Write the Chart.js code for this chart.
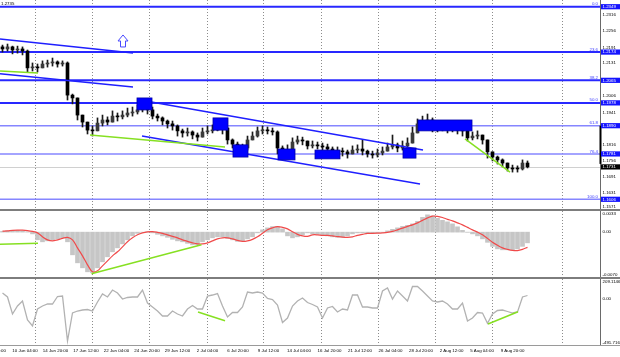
<!DOCTYPE html>
<html><head><meta charset="utf-8">
<script src="https://cdn.jsdelivr.net/npm/chart.js@4.4.1/dist/chart.umd.min.js"></script>
<style>
html,body{margin:0;padding:0;background:#fff;overflow:hidden}
#wrap{position:relative;width:620px;height:357px;background:#fff}
canvas{position:absolute;left:0}
.sep{position:absolute;left:0;width:620px;height:2px;background:#7d7d7d}
</style></head><body>
<div id="wrap">
<canvas id="c1" width="620" height="209" style="top:0"></canvas>
<div class="sep" style="top:209px"></div>
<canvas id="c2" width="620" height="66" style="top:211px"></canvas>
<div class="sep" style="top:277px"></div>
<canvas id="c3" width="620" height="78" style="top:279px"></canvas>
</div>
<script>
// ---------- DATA (H4 candles) ----------
const opens = [1.2194,1.2186,1.2194,1.2182,1.2186,1.2178,1.2113,1.2116,1.2113,1.2128,
 1.2132,1.2136,1.2128,1.2132,1.2008,1.1997,1.1931,1.1904,1.1873,1.1870,
 1.1900,1.1912,1.1904,1.1927,1.1924,1.1931,1.1939,1.1943,1.1951,1.1962,
 1.1951,1.1927,1.1920,1.1908,1.1897,1.1889,1.1870,1.1862,1.1866,1.1854,
 1.1846,1.1866,1.1870,1.1873,1.1885,1.1881,1.1835,1.1819,1.1808,1.1804,
 1.1835,1.1850,1.1870,1.1873,1.1870,1.1866,1.1804,1.1789,1.1796,1.1827,
 1.1835,1.1831,1.1812,1.1816,1.1812,1.1808,1.1800,1.1789,1.1792,1.1789,
 1.1781,1.1796,1.1800,1.1792,1.1781,1.1777,1.1785,1.1792,1.1808,1.1816,
 1.1804,1.1812,1.1823,1.1862,1.1897,1.1908,1.1912,1.1885,1.1881,1.1885,
 1.1877,1.1881,1.1873,1.1870,1.1843,1.1850,1.1854,1.1835,1.1789,1.1769,
 1.1758,1.1746,1.1727,1.1723,1.1723,1.1746];
const highs = [1.2201,1.2205,1.2197,1.2197,1.2194,1.2182,1.2132,1.2128,1.2140,1.2143,
 1.2151,1.2140,1.2140,1.2136,1.2012,1.1997,1.1931,1.1904,1.1889,1.1920,
 1.1931,1.1924,1.1947,1.1939,1.1947,1.1958,1.1962,1.1970,1.1985,1.1978,
 1.1962,1.1935,1.1924,1.1912,1.1908,1.1893,1.1877,1.1881,1.1870,1.1862,
 1.1881,1.1889,1.1893,1.1908,1.1900,1.1881,1.1839,1.1827,1.1819,1.1850,
 1.1866,1.1885,1.1889,1.1885,1.1881,1.1870,1.1812,1.1816,1.1843,1.1850,
 1.1846,1.1831,1.1831,1.1827,1.1823,1.1819,1.1808,1.1808,1.1804,1.1796,
 1.1812,1.1816,1.1835,1.1796,1.1792,1.1800,1.1808,1.1823,1.1854,1.1823,
 1.1831,1.1843,1.1885,1.1916,1.1927,1.1935,1.1920,1.1897,1.1900,1.1893,
 1.1897,1.1889,1.1885,1.1873,1.1866,1.1870,1.1854,1.1835,1.1789,1.1773,
 1.1762,1.1746,1.1738,1.1735,1.1758,1.1754];
const lows = [1.2174,1.2178,1.2167,1.2170,1.2163,1.2097,1.2101,1.2097,1.2113,1.2116,
 1.2120,1.2116,1.2120,1.1989,1.1974,1.1912,1.1885,1.1858,1.1850,1.1870,
 1.1889,1.1893,1.1904,1.1908,1.1916,1.1924,1.1927,1.1935,1.1943,1.1935,
 1.1916,1.1908,1.1893,1.1881,1.1873,1.1850,1.1846,1.1850,1.1839,1.1831,
 1.1846,1.1858,1.1862,1.1870,1.1858,1.1819,1.1804,1.1792,1.1785,1.1796,
 1.1835,1.1846,1.1858,1.1858,1.1854,1.1781,1.1773,1.1777,1.1792,1.1819,
 1.1816,1.1800,1.1804,1.1800,1.1796,1.1789,1.1777,1.1777,1.1773,1.1765,
 1.1781,1.1785,1.1777,1.1769,1.1765,1.1769,1.1777,1.1792,1.1800,1.1789,
 1.1796,1.1792,1.1823,1.1862,1.1893,1.1897,1.1866,1.1866,1.1870,1.1862,
 1.1866,1.1858,1.1850,1.1831,1.1835,1.1839,1.1819,1.1765,1.1754,1.1742,
 1.1731,1.1715,1.1711,1.1711,1.1719,1.1727];
const closes = [1.2186,1.2194,1.2182,1.2186,1.2178,1.2113,1.2116,1.2113,1.2128,1.2132,
 1.2136,1.2128,1.2132,1.2008,1.1997,1.1931,1.1904,1.1873,1.1870,1.1900,
 1.1912,1.1904,1.1927,1.1924,1.1931,1.1939,1.1943,1.1951,1.1962,1.1951,
 1.1927,1.1920,1.1908,1.1897,1.1889,1.1870,1.1862,1.1866,1.1854,1.1846,
 1.1866,1.1870,1.1873,1.1885,1.1881,1.1835,1.1819,1.1808,1.1804,1.1835,
 1.1850,1.1870,1.1873,1.1870,1.1866,1.1804,1.1789,1.1796,1.1827,1.1835,
 1.1831,1.1812,1.1816,1.1812,1.1808,1.1800,1.1789,1.1792,1.1789,1.1781,
 1.1796,1.1800,1.1792,1.1781,1.1777,1.1785,1.1792,1.1808,1.1816,1.1804,
 1.1812,1.1823,1.1862,1.1897,1.1908,1.1912,1.1885,1.1881,1.1885,1.1877,
 1.1881,1.1873,1.1870,1.1843,1.1850,1.1854,1.1835,1.1789,1.1769,1.1758,
 1.1746,1.1727,1.1723,1.1723,1.1746,1.1731];

const macdMain = [0.00012,0.00020,0.00028,0.00028,0.00020,0.00005,-0.00027,-0.00120,-0.00151,-0.00136,
 -0.00120,-0.00105,-0.00089,-0.00151,-0.00354,-0.00479,-0.00557,-0.00619,-0.00635,-0.00557,
 -0.00463,-0.00385,-0.00307,-0.00245,-0.00183,-0.00120,-0.00058,-0.00019,-0.00003,0.00005,
 -0.00011,-0.00034,-0.00058,-0.00081,-0.00112,-0.00136,-0.00151,-0.00175,-0.00198,-0.00198,
 -0.00151,-0.00120,-0.00089,-0.00073,-0.00073,-0.00097,-0.00120,-0.00144,-0.00136,-0.00105,
 -0.00073,-0.00011,0.00036,0.00067,0.00087,0.00087,0.00051,-0.00058,-0.00089,-0.00073,
 -0.00042,-0.00011,-0.00027,-0.00034,-0.00042,-0.00058,-0.00073,-0.00081,-0.00081,-0.00058,
 -0.00027,-0.00011,-0.00011,-0.00011,-0.00011,-0.00011,-0.00003,0.00020,0.00044,0.00067,
 0.00090,0.00106,0.00129,0.00168,0.00231,0.00270,0.00254,0.00215,0.00184,0.00161,
 0.00129,0.00083,0.00028,-0.00003,-0.00027,-0.00058,-0.00105,-0.00159,-0.00222,-0.00261,
 -0.00276,-0.00276,-0.00276,-0.00261,-0.00222,-0.00167];
const macdSignal = [0.00016,0.00020,0.00028,0.00031,0.00031,0.00025,0.00012,-0.00011,-0.00073,-0.00120,
 -0.00136,-0.00120,-0.00097,-0.00081,-0.00120,-0.00245,-0.00370,-0.00510,-0.00619,-0.00604,
 -0.00526,-0.00448,-0.00370,-0.00307,-0.00229,-0.00151,-0.00089,-0.00042,-0.00011,0.00005,
 0.00008,-0.00003,-0.00019,-0.00042,-0.00066,-0.00089,-0.00120,-0.00144,-0.00167,-0.00183,
 -0.00183,-0.00167,-0.00136,-0.00105,-0.00089,-0.00089,-0.00105,-0.00128,-0.00144,-0.00136,
 -0.00112,-0.00073,-0.00019,0.00036,0.00067,0.00087,0.00075,0.00051,0.00005,-0.00034,
 -0.00058,-0.00066,-0.00042,-0.00042,-0.00050,-0.00050,-0.00058,-0.00069,-0.00078,-0.00081,
 -0.00073,-0.00050,-0.00034,-0.00019,-0.00019,-0.00016,-0.00011,-0.00003,0.00012,0.00036,
 0.00062,0.00090,0.00114,0.00145,0.00184,0.00223,0.00251,0.00246,0.00228,0.00200,
 0.00176,0.00145,0.00114,0.00075,0.00036,0.00000,-0.00042,-0.00097,-0.00159,-0.00206,
 -0.00245,-0.00268,-0.00284,-0.00287,-0.00268,-0.00237];
const cciValues = [60.4,18.0,-162.6,-77.6,-24.5,-226.3,-290.0,-109.5,-77.6,-56.4,
 -56.4,23.3,28.6,-449.3,-151.9,-130.7,-120.1,-114.8,-130.7,-35.1,
 49.8,18.0,92.3,60.4,-3.3,12.7,18.0,18.0,92.3,-45.7,
 -88.2,-130.7,-183.8,-183.8,-130.7,-162.6,-183.8,-109.5,-72.3,-109.5,
 -109.5,28.6,39.2,55.1,-77.6,-194.4,-146.6,-146.6,-88.2,71.1,
 60.4,71.1,60.4,2.0,-8.6,-67.0,-252.8,-205.0,-77.6,-24.5,
 7.4,-40.4,-61.7,-88.2,-205.0,-98.8,-82.9,-141.3,-109.5,-120.1,
 39.2,39.2,-88.2,-88.2,-98.8,-98.8,81.7,113.5,-3.3,81.7,
 28.6,-24.5,129.5,129.5,81.7,28.6,-24.5,-35.1,-24.5,-56.4,
 -109.5,-109.5,-45.7,-236.9,-205.0,-146.6,-151.9,-261.3,-162.6,-125.4,
 -120.1,-136.0,-151.9,-141.3,18.0,33.9];

// Fibonacci levels and price-scale ticks
const fibLevels = [1.2349, 1.2174, 1.2065, 1.1978, 1.1890, 1.1781, 1.1606];
const fibNames  = ['0.0', '23.6', '38.2', '50.0', '61.8', '76.4', '100.0'];
const priceTicks = [1.2316, 1.2256, 1.2191, 1.2131, 1.2006, 1.1941, 1.1816, 1.1756, 1.1691, 1.1631, 1.1571];
const macdTicks = [0.0033, 0.00, -0.0070];
const macdTickLabels = ['0.0033', '0.00', '-0.0070'];
const cciTicks = [209.1146, 0, -491.7166];
const cciTickLabels = ['209.1146', '0.00', '-491.7166'];

// time axis (positions are bar indices)
const timeLabels = ['7 Jun 12:00','10 Jun 04:00','14 Jun 20:00','17 Jun 12:00','22 Jun 04:00','24 Jun 20:00',
 '29 Jun 12:00','2 Jul 04:00','6 Jul 20:00','9 Jul 12:00','14 Jul 04:00','16 Jul 20:00','21 Jul 12:00',
 '26 Jul 04:00','28 Jul 20:00','2 Aug 12:00','5 Aug 04:00','9 Aug 20:00'];
const timeLabelPos = [-1.6,4.5,10.6,16.7,22.8,28.9,35.0,41.0,47.1,53.2,59.3,65.4,71.5,77.6,83.7,89.8,95.9,102.0];
const gridPos = [6.5, 17.9, 29.3, 40.9, 52.1, 63.7, 75.1, 86.5, 97.9, 111.9];

// drawn analysis objects, in (bar index, value) coordinates
const channelLines = [[-0.5,1.2224,26.1,1.2170],[-0.5,1.2090,26.1,1.2039],[27.5,1.1989,84.1,1.1796],[27.9,1.1850,83.5,1.1665]];
const greenLines = [[-0.5,1.2101,7.1,1.2093],[17.5,1.1854,44.5,1.1808],[92.5,1.1839,101.5,1.1711]];
const zoneBoxes = [[26.9,29.9,1.1997,1.1951],[42.1,45.1,1.1920,1.1873],[46.1,49.1,1.1816,1.1769],
 [55.1,58.5,1.1800,1.1758],[62.5,67.5,1.1796,1.1762],[80.1,82.7,1.1804,1.1765],[83.1,93.9,1.1912,1.1870]];
const arrowAt = [24.1, 1.2240];
const macdGreen = [[-0.5,-0.00187,7.1,-0.00172],[17.8,-0.00650,39.8,-0.00198]];
const cciGreen = [[39.1,-141.3,44.5,-233.7],[97.1,-268.7,103.1,-138.1]];

// ---------- helpers ----------
const FONT = '4.4px "Liberation Sans", Arial, sans-serif';
function seg(ctx,x1,y1,x2,y2){ctx.beginPath();ctx.moveTo(x1,y1);ctx.lineTo(x2,y2);ctx.stroke();}
function txt(ctx,s,x,y,color,align){ctx.font=FONT;ctx.fillStyle=color;ctx.textAlign=align||'left';ctx.textBaseline='middle';ctx.fillText(s,x,y);}
function vGrid(chart){
  const {ctx,chartArea:a,scales:{x}}=chart; ctx.save();
  ctx.strokeStyle='#8c8c8c'; ctx.lineWidth=1; ctx.setLineDash([1,2]);
  gridPos.forEach(g=>{const px=Math.round(x.getPixelForValue(g))+0.5; seg(ctx,px,a.top,px,a.bottom);});
  ctx.restore();
}
function axisLine(chart){
  const {ctx,chartArea:a}=chart; ctx.save(); ctx.strokeStyle='#6a6a6a'; ctx.lineWidth=1;
  seg(ctx,a.right+0.5,a.top,a.right+0.5,a.bottom); ctx.restore();
}
function dataSegs(chart,list,color,w){
  const {ctx,chartArea:a,scales:{x,y}}=chart; ctx.save();
  ctx.beginPath(); ctx.rect(a.left,a.top,a.right-a.left,a.bottom-a.top); ctx.clip();
  ctx.strokeStyle=color; ctx.lineWidth=w;
  list.forEach(l=>seg(ctx,x.getPixelForValue(l[0]),y.getPixelForValue(l[1]),x.getPixelForValue(l[2]),y.getPixelForValue(l[3])));
  ctx.restore();
}
function sideTicks(chart,vals,labels){
  const {ctx,chartArea:a,scales:{y}}=chart; ctx.save();
  vals.forEach((v,k)=>{let py=y.getPixelForValue(v); py=Math.min(Math.max(py,a.top+3),a.bottom-2.5); txt(ctx,labels[k],a.right+2.5,py,'#000');});
  ctx.restore();
}
const xScale = {type:'linear',min:-0.5,max:119.5,display:false,offset:false};
const baseOpts = {responsive:false,animation:false,events:[],devicePixelRatio:1,
  plugins:{legend:{display:false},tooltip:{enabled:false}}};

// ---------- main price pane ----------
const mainDeco = {
  id:'mainDeco',
  beforeDatasetsDraw(chart){
    const {ctx,chartArea:a,scales:{y}}=chart;
    vGrid(chart);
    ctx.save();
    const by=Math.round(y.getPixelForValue(closes[closes.length-1]))+0.5;
    ctx.strokeStyle='#d0d0d0'; ctx.lineWidth=1; seg(ctx,a.left,by,a.right,by);
    fibLevels.forEach((lv,k)=>{
      const py=y.getPixelForValue(lv);
      ctx.strokeStyle=k<4?'#2828ff':'#8686ff'; ctx.lineWidth=k<4?2:1.5;
      seg(ctx,a.left,py,a.right,py);
    });
    ctx.restore();
  },
  afterDatasetsDraw(chart){
    const {ctx,chartArea:a,scales:{x,y}}=chart;
    dataSegs(chart,channelLines,'#1f1fff',1.5);
    dataSegs(chart,greenLines,'#86e022',1.5);
    ctx.save();
    zoneBoxes.forEach(b=>{
      const x1=x.getPixelForValue(b[0]),x2=x.getPixelForValue(b[1]),y1=y.getPixelForValue(b[2]),y2=y.getPixelForValue(b[3]);
      ctx.fillStyle='#0000ff'; ctx.fillRect(x1,y1,x2-x1,y2-y1);
      ctx.strokeStyle='#0000a8'; ctx.lineWidth=0.8; ctx.strokeRect(x1,y1,x2-x1,y2-y1);
    });
    const ax=x.getPixelForValue(arrowAt[0]), ay=y.getPixelForValue(arrowAt[1]);
    ctx.strokeStyle='#4848ff'; ctx.lineWidth=1;
    ctx.beginPath(); ctx.moveTo(ax,ay); ctx.lineTo(ax+5,ay+6); ctx.lineTo(ax+2.5,ay+6); ctx.lineTo(ax+2.5,ay+12);
    ctx.lineTo(ax-2.5,ay+12); ctx.lineTo(ax-2.5,ay+6); ctx.lineTo(ax-5,ay+6); ctx.closePath(); ctx.stroke();
    ctx.restore();
  },
  afterDraw(chart){
    const {ctx,chartArea:a,scales:{y}}=chart;
    axisLine(chart);
    ctx.save();
    ctx.strokeStyle='#000'; ctx.lineWidth=2;
    seg(ctx,a.right+0.5,y.getPixelForValue(fibLevels[4]),a.right+0.5,y.getPixelForValue(closes[closes.length-1])-3);
    sideTicks(chart,priceTicks,priceTicks.map(v=>v.toFixed(4)));
    fibLevels.forEach((lv,k)=>{
      const py=y.getPixelForValue(lv);
      ctx.fillStyle='#1414ff'; ctx.fillRect(a.right+1,py-2.6,19,5.2);
      txt(ctx,lv.toFixed(4),a.right+2.5,py,'#fff');
      txt(ctx,fibNames[k],a.right-2,py-2.6,'#3c3cff','right');
    });
    const last=closes[closes.length-1], ly=y.getPixelForValue(last);
    ctx.fillStyle='#000'; ctx.fillRect(a.right+1,ly-2.6,19,5.2);
    txt(ctx,last.toFixed(4),a.right+2.5,ly,'#fff');
    txt(ctx,'1.2735',1,4,'#000');
    ctx.restore();
  }
};
new Chart(document.getElementById('c1'),{
  type:'bar',
  data:{datasets:[
    {data:lows.map((l,i)=>({x:i,y:[l,highs[i]]})),backgroundColor:'#1a1a1a',barThickness:1,grouped:false,order:1},
    {data:opens.map((o,i)=>({x:i,y:[o,closes[i]]})),
     backgroundColor:c=>closes[c.dataIndex]>opens[c.dataIndex]?'#3a3a3a':'#000000',
     borderWidth:0,barThickness:3,minBarLength:1,grouped:false,order:0}
  ]},
  options:Object.assign({},baseOpts,{layout:{padding:{right:20}},
    scales:{x:xScale,y:{min:1.15686,max:1.23749,display:false}}}),
  plugins:[mainDeco]
});

// ---------- MACD pane ----------
const macdDeco = {
  id:'macdDeco',
  beforeDatasetsDraw(chart){vGrid(chart);},
  afterDatasetsDraw(chart){dataSegs(chart,macdGreen,'#86e022',1.5);},
  afterDraw(chart){axisLine(chart); sideTicks(chart,macdTicks,macdTickLabels);}
};
new Chart(document.getElementById('c2'),{
  type:'bar',
  data:{datasets:[
    {type:'line',data:macdSignal.map((v,i)=>({x:i,y:v})),borderColor:'#f04a4a',borderWidth:1.2,pointRadius:0,tension:0.35,order:0},
    {type:'bar',data:macdMain.map((v,i)=>({x:i,y:v})),backgroundColor:'#c6c6c6',barThickness:4,order:1}
  ]},
  options:Object.assign({},baseOpts,{layout:{padding:{right:20}},
    scales:{x:xScale,y:{min:-0.0070,max:0.0033,display:false}}}),
  plugins:[macdDeco]
});

// ---------- CCI pane + time axis ----------
const cciDeco = {
  id:'cciDeco',
  beforeDatasetsDraw(chart){vGrid(chart);},
  afterDatasetsDraw(chart){dataSegs(chart,cciGreen,'#86e022',1.5);},
  afterDraw(chart){
    const {ctx,chartArea:a,scales:{x}}=chart;
    axisLine(chart); sideTicks(chart,cciTicks,cciTickLabels);
    ctx.save();
    ctx.strokeStyle='#9a9a9a'; ctx.lineWidth=1; seg(ctx,0,a.bottom+0.5,a.right+20,a.bottom+0.5);
    timeLabels.forEach((t,k)=>txt(ctx,t,x.getPixelForValue(timeLabelPos[k]),a.bottom+6,'#000','center'));
    ctx.restore();
  }
};
new Chart(document.getElementById('c3'),{
  type:'line',
  data:{datasets:[
    {data:cciValues.map((v,i)=>({x:i,y:v})),borderColor:'#b2b2b2',borderWidth:1.3,pointRadius:0,tension:0}
  ]},
  options:Object.assign({},baseOpts,{layout:{padding:{right:20,bottom:12}},
    scales:{x:xScale,y:{min:-491.7166,max:209.1146,display:false}}}),
  plugins:[cciDeco]
});
</script>
</body></html>
